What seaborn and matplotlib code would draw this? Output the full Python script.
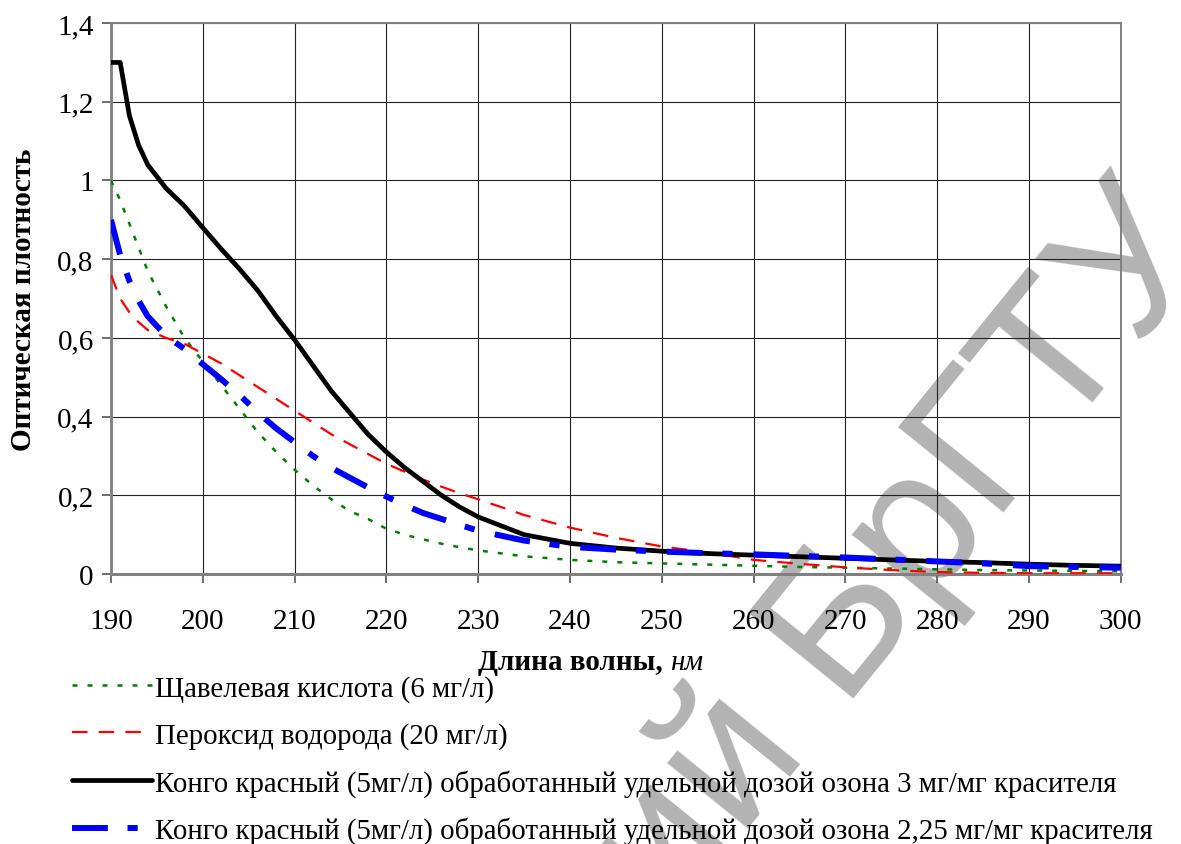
import matplotlib
matplotlib.use("Agg")
import matplotlib.pyplot as plt
import seaborn as sns

# wavelength grid, nm
wavelength = [190, 191, 192, 193, 194, 196, 198, 200, 202, 204, 206, 208, 210,
              212, 214, 216, 218, 220, 222, 224, 226, 228, 230, 235, 240, 245,
              250, 255, 260, 265, 270, 275, 280, 285, 290, 295, 300]

# optical density
oxalic = [1.00, 0.95, 0.89, 0.83, 0.77, 0.68, 0.60, 0.54, 0.48, 0.42, 0.36, 0.31, 0.265,
          0.225, 0.19, 0.16, 0.14, 0.115, 0.10, 0.088, 0.077, 0.068, 0.06, 0.045, 0.036, 0.03,
          0.027, 0.024, 0.021, 0.018, 0.016, 0.014, 0.012, 0.010, 0.009, 0.008, 0.007]
peroxide = [0.76, 0.70, 0.665, 0.64, 0.62, 0.60, 0.585, 0.56, 0.535, 0.505, 0.475, 0.445, 0.415,
            0.385, 0.355, 0.33, 0.305, 0.28, 0.26, 0.24, 0.222, 0.205, 0.19, 0.15, 0.118, 0.092,
            0.07, 0.055, 0.036, 0.026, 0.017, 0.01, 0.005, 0.003, 0.002, 0.002, 0.002]
congo_3 = [1.30, 1.30, 1.165, 1.09, 1.04, 0.98, 0.935, 0.88, 0.826, 0.775, 0.72, 0.655, 0.595,
           0.53, 0.465, 0.41, 0.355, 0.31, 0.27, 0.235, 0.20, 0.17, 0.145, 0.10, 0.078, 0.066,
           0.058, 0.052, 0.048, 0.044, 0.04, 0.036, 0.032, 0.029, 0.025, 0.022, 0.02]
congo_225 = [0.90, 0.81, 0.745, 0.695, 0.655, 0.605, 0.572, 0.533, 0.495, 0.455, 0.41, 0.37, 0.335,
             0.30, 0.27, 0.245, 0.22, 0.197, 0.175, 0.155, 0.14, 0.125, 0.11, 0.085, 0.069, 0.062,
             0.057, 0.053, 0.05, 0.046, 0.042, 0.037, 0.032, 0.027, 0.02, 0.018, 0.016]

labels = ["Щавелевая кислота (6 мг/л)",
          "Пероксид водорода (20 мг/л)",
          "Конго красный (5мг/л) обработанный удельной дозой озона 3 мг/мг красителя",
          "Конго красный (5мг/л) обработанный удельной дозой озона 2,25 мг/мг красителя"]

x_ticks = [190, 200, 210, 220, 230, 240, 250, 260, 270, 280, 290, 300]
y_ticks = [0, 0.2, 0.4, 0.6, 0.8, 1.0, 1.2, 1.4]
y_tick_labels = ["0", "0,2", "0,4", "0,6", "0,8", "1", "1,2", "1,4"]

sns.set_theme(style="white")
plt.rcParams["font.family"] = ["Liberation Serif", "DejaVu Serif"]
plt.rcParams["axes.axisbelow"] = True
plt.rcParams["text.color"] = "black"
plt.rcParams["axes.labelcolor"] = "black"

fig = plt.figure(figsize=(11.81, 8.45), dpi=100)
ax = fig.add_axes([0.094, 0.3195, 0.855, 0.652])

sns.lineplot(x=wavelength, y=oxalic, ax=ax, color="green", linewidth=1.8,
             linestyle=(0, (2, 4)), label=labels[0], zorder=3)
sns.lineplot(x=wavelength, y=peroxide, ax=ax, color="red", linewidth=1.6,
             linestyle=(0, (7, 5)), label=labels[1], zorder=3)
sns.lineplot(x=wavelength, y=congo_3, ax=ax, color="black", linewidth=3.4,
             label=labels[2], zorder=4)
sns.lineplot(x=wavelength, y=congo_225, ax=ax, color="blue", linewidth=4.3,
             linestyle=(0, (6, 3.3, 1.7, 3.5)), label=labels[3], zorder=5)

ax.set_xlim(190, 300)
ax.set_ylim(0, 1.4)
ax.set_xticks(x_ticks)
ax.set_xticklabels([str(v) for v in x_ticks])
ax.set_yticks(y_ticks)
ax.set_yticklabels(y_tick_labels)
ax.tick_params(axis="both", direction="out", length=6.5, width=1.2, color="#555555",
               labelsize=21, labelcolor="black", left=True, bottom=True)
ax.tick_params(axis="x", pad=18)
ax.tick_params(axis="y", pad=6)
ax.grid(True, color="#222222", linewidth=0.8)
for side in ["left", "bottom", "top", "right"]:
    ax.spines[side].set_visible(True)
    ax.spines[side].set_color("#808080")
    ax.spines[side].set_linewidth(1.4)
ax.spines["left"].set_linewidth(2)
ax.spines["bottom"].set_linewidth(2.2)

ax.set_xlabel("")
ax.set_ylabel("Оптическая плотность", fontsize=21, fontweight="bold")
ax.yaxis.set_label_coords(-0.073, 0.5)

xl = fig.text(478 / 1181, 1 - 663 / 845, "Длина волны,", fontsize=21,
              fontweight="bold", va="center", ha="left")
ax.annotate("нм", xy=(1, 0), xycoords=xl, xytext=(5, 0), textcoords="offset points",
            fontsize=21, style="italic", va="bottom", ha="left")

handles, labs = ax.get_legend_handles_labels()
ax.legend(handles, labs, loc="upper left", bbox_to_anchor=(72 / 1181, 1 - 676 / 845),
          bbox_transform=fig.transFigure, frameon=False, fontsize=20.8,
          handlelength=2.77, handletextpad=0.1, labelspacing=0.69,
          borderpad=0, borderaxespad=0)

# watermark of the source repository
ax.text(1216 / 1181, 1 - 251 / 845, "Репозиторий БрГТУ", transform=fig.transFigure,
        rotation=51, rotation_mode="anchor", ha="right", va="baseline",
        fontsize=142, family="Liberation Sans", color="#b3b3b3",
        zorder=0.3, clip_on=False)

fig.savefig("out.png", dpi=100)
